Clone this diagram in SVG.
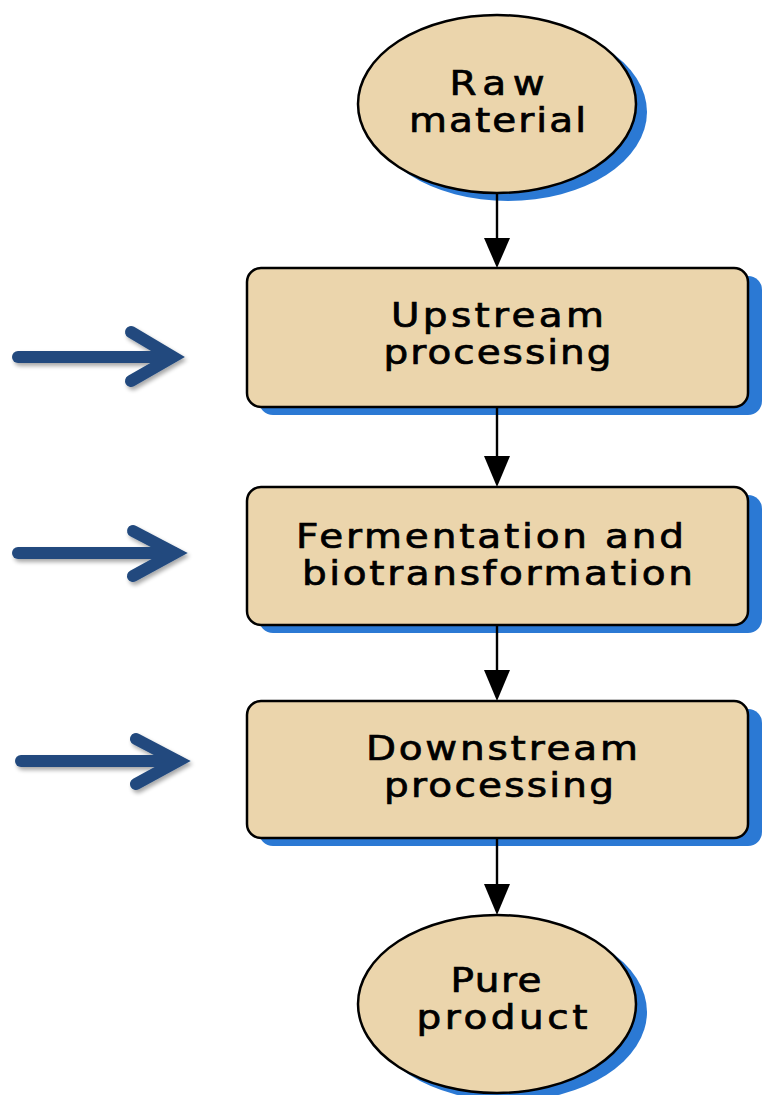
<svg xmlns="http://www.w3.org/2000/svg" width="769" height="1095" viewBox="0 0 769 1095">
<defs>
<style>
.shadow{fill:#2b79d4}
.node{fill:#ebd5ac;stroke:#000;stroke-width:2.5}
.lbl{font-family:"DejaVu Sans","Liberation Sans",sans-serif;font-size:33px;fill:#000;stroke:#000;stroke-width:0.7;text-anchor:middle}
.conn{stroke:#000;stroke-width:2.4;fill:none}
.head{fill:#000}
.blue{stroke:#224a7e;stroke-width:12;fill:none;stroke-linecap:round;stroke-linejoin:miter}
</style>
<filter id="ds" x="-10%" y="-30%" width="130%" height="180%">
<feGaussianBlur in="SourceAlpha" stdDeviation="2"/>
<feOffset dx="2" dy="3" result="b"/>
<feComponentTransfer><feFuncA type="linear" slope="0.35"/></feComponentTransfer>
<feMerge><feMergeNode/><feMergeNode in="SourceGraphic"/></feMerge>
</filter>
</defs>
<rect width="769" height="1095" fill="#fff"/>

<g id="raw-material">
<ellipse class="shadow" cx="508" cy="112" rx="139" ry="89"/>
<ellipse class="node" cx="497" cy="104" rx="139" ry="89"/>
<text class="lbl" transform="translate(497,0) scale(1.18,1)"><tspan x="0" y="95" textLength="80.5" lengthAdjust="spacing">Raw</tspan><tspan x="0.4" y="132" textLength="150" lengthAdjust="spacing">material</tspan></text>
</g>

<g id="upstream">
<rect class="shadow" x="259" y="276" width="503" height="139" rx="14"/>
<rect class="node" x="247" y="268" width="501" height="139" rx="14"/>
<text class="lbl" transform="translate(497,0) scale(1.18,1)"><tspan x="0.4" y="327" textLength="180.5" lengthAdjust="spacing">Upstream</tspan><tspan x="0.4" y="364" textLength="193.2" lengthAdjust="spacing">processing</tspan></text>
</g>

<g id="fermentation">
<rect class="shadow" x="259" y="495" width="503" height="138" rx="14"/>
<rect class="node" x="247" y="487" width="501" height="138" rx="14"/>
<text class="lbl" transform="translate(497,0) scale(1.18,1)"><tspan x="-5.9" y="548" textLength="328.8" lengthAdjust="spacing">Fermentation and</tspan><tspan x="0.4" y="585" textLength="331.4" lengthAdjust="spacing">biotransformation</tspan></text>
</g>

<g id="downstream">
<rect class="shadow" x="259" y="709" width="503" height="137" rx="14"/>
<rect class="node" x="247" y="701" width="501" height="137" rx="14"/>
<text class="lbl" transform="translate(497,0) scale(1.18,1)"><tspan x="4.2" y="760" textLength="230.5" lengthAdjust="spacing">Downstream</tspan><tspan x="1.7" y="797" textLength="194.9" lengthAdjust="spacing">processing</tspan></text>
</g>

<g id="pure-product">
<ellipse class="shadow" cx="508" cy="1012" rx="139" ry="89"/>
<ellipse class="node" cx="497" cy="1004" rx="139" ry="89"/>
<text class="lbl" transform="translate(497,0) scale(1.18,1)"><tspan x="-0.85" y="992" textLength="77.1" lengthAdjust="spacing">Pure</tspan><tspan x="4.2" y="1029" textLength="144.9" lengthAdjust="spacing">product</tspan></text>
</g>

<g id="connectors">
<line class="conn" x1="497" y1="193" x2="497" y2="240"/>
<polygon class="head" points="484,238 510,238 497,268"/>
<line class="conn" x1="497" y1="407" x2="497" y2="458"/>
<polygon class="head" points="484,456 510,456 497,487"/>
<line class="conn" x1="497" y1="625" x2="497" y2="672"/>
<polygon class="head" points="484,670 510,670 497,701"/>
<line class="conn" x1="497" y1="838" x2="497" y2="886"/>
<polygon class="head" points="484,884 510,884 497,915"/>
</g>

<g id="input-arrows" filter="url(#ds)">
<line class="blue" x1="18" y1="357" x2="172" y2="357"/>
<polyline class="blue" points="131,332 173,357 131,381"/>
<line class="blue" x1="18" y1="553" x2="174" y2="553"/>
<polyline class="blue" points="133,531 175,553 133,576"/>
<line class="blue" x1="21" y1="761" x2="177" y2="761"/>
<polyline class="blue" points="136,739 178,761 136,784"/>
</g>
</svg>
